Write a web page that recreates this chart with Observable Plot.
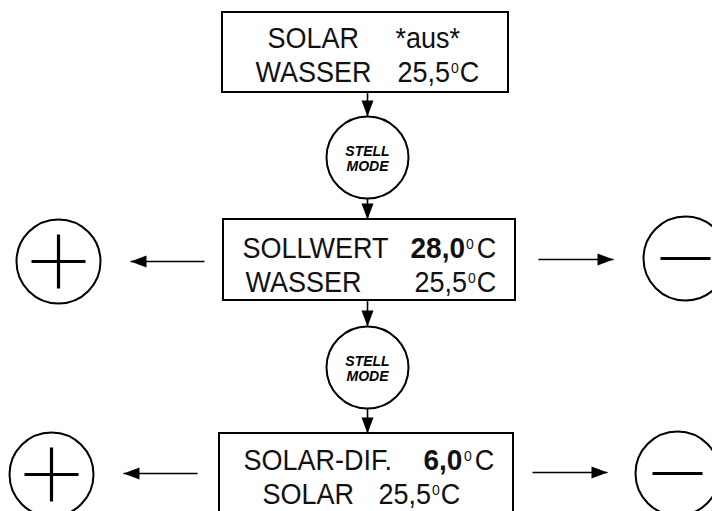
<!DOCTYPE html>
<html><head><meta charset="utf-8">
<script src="https://cdn.jsdelivr.net/npm/d3@7"></script>
<script src="https://cdn.jsdelivr.net/npm/@observablehq/plot@0.6"></script>
<style>html,body{margin:0;padding:0;background:#fff;overflow:hidden}</style>
</head><body><div id="chart"></div>
<script>
// ---------- content ----------
const labels    = [["SOLAR", "WASSER"], ["SOLLWERT", "WASSER"], ["SOLAR-DIF.", "SOLAR"]];
const values    = [["*aus*", "25,5"], ["28,0", "25,5"], ["6,0", "25,5"]];
const valueBold = [[false, false], [true, false], [true, false]];
const units     = [["", "C"], ["C", "C"], ["C", "C"]];
const degreeMark = "0";
const modeKey   = ["STELL", "MODE"];
const keyKinds  = ["plus", "minus"];

// ---------- layout ----------
const W = 712, H = 511;
const boxX1 = [222, 223, 219], boxX2 = [508, 515, 513];
const boxY1 = [12, 219, 433], boxY2 = [92, 300, 540];
const baselines = [[47, 81], [257, 291], [469, 503]];
const labelX = [[267, 255], [242, 245], [243, 262]];
const valueX = [[395, 397], [410, 414], [423, 378]];
const flowX = 367, modeY = [157, 367], modeR = 41;
const plusCX = [58, 51], plusCY = [261, 474];
const minusCX = [685, 677], minusCY = [258, 473];
const keyR = 42, plusHalf = 27, minusHalf = 25;
const leftArrow = [[204, 130, 261], [197, 123, 473]];
const rightArrow = [[538, 613, 259], [532, 607, 472]];

const FS = 27, SUP = 14, FONT = '"Liberation Sans", Arial, sans-serif';
const STRETCH_Y = 1.07;

const ctx = document.createElement("canvas").getContext("2d");
const measure = (t, bold, size) => { ctx.font = `${bold ? "bold " : ""}${size}px ${FONT}`; return ctx.measureText(t).width; };

const seg = [];
labels.forEach((rows, b) => rows.forEach((lab, l) => {
  const y = baselines[b][l];
  seg.push({x: labelX[b][l], y, text: lab, kind: "n"});
  const vb = valueBold[b][l];
  seg.push({x: valueX[b][l], y, text: values[b][l], kind: vb ? "b" : "n"});
  if (units[b][l]) {
    const gap = vb ? 3 : 1;
    let x = valueX[b][l] + measure(values[b][l], vb, FS) + gap;
    seg.push({x, y: y - 9, text: degreeMark, kind: "s"});
    x += measure(degreeMark, false, SUP) + gap;
    seg.push({x, y, text: units[b][l], kind: "n"});
  }
}));

const boxes = labels.map((_, i) => ({x1: boxX1[i], x2: boxX2[i], y1: boxY1[i], y2: boxY2[i]}));
const flow = [];
modeY.forEach((cy, i) => {
  flow.push({x: flowX, y1: boxY2[i], y2: cy - modeR});
  flow.push({x: flowX, y1: cy + modeR, y2: boxY1[i + 1]});
});
const modes = modeY.map(cy => ({x: flowX, y: cy}));
const modeText = modes.flatMap(m => modeKey.map((t, k) => ({x: m.x, y: m.y - 2 + 15 * k, text: t})));

const sideShafts = [
  ...leftArrow.map(([a, b, y]) => ({x1: a, x2: b, y, rot: -90})),
  ...rightArrow.map(([a, b, y]) => ({x1: a, x2: b, y, rot: 90}))
];
const keys = [
  ...plusCX.map((x, i) => ({x, y: plusCY[i], kind: keyKinds[0]})),
  ...minusCX.map((x, i) => ({x, y: minusCY[i], kind: keyKinds[1]}))
];
const strokes = keys.flatMap(k => k.kind === "plus"
  ? [{x1: k.x - plusHalf, x2: k.x + plusHalf, y1: k.y, y2: k.y}, {x1: k.x, x2: k.x, y1: k.y - plusHalf, y2: k.y + plusHalf}]
  : [{x1: k.x - minusHalf, x2: k.x + minusHalf, y1: k.y, y2: k.y}]);

const arrowHead = {draw(c) { const L = 16, w = 6; c.moveTo(0, 0); c.lineTo(w, L); c.lineTo(-w, L); c.closePath(); }};

const chart = Plot.plot({
  width: W, height: H, margin: 0,
  x: {domain: [0, W], range: [0, W], axis: null},
  y: {domain: [0, H], range: [0, H], axis: null},
  style: {fontFamily: FONT, background: "white", color: "black"},
  marks: [
    Plot.rect(boxes, {x1: "x1", x2: "x2", y1: "y1", y2: "y2", fill: "white", stroke: "black", strokeWidth: 2, clip: true}),
    Plot.link(flow, {x1: "x", x2: "x", y1: "y1", y2: "y2", stroke: "black", strokeWidth: 1.6}),
    Plot.dot(flow, {x: "x", y: "y2", symbol: arrowHead, rotate: 180, fill: "black", stroke: null}),
    Plot.dot(modes, {x: "x", y: "y", r: modeR, fill: "white", stroke: "black", strokeWidth: 2}),
    Plot.text(modeText, {x: "x", y: "y", text: "text", fontSize: 14, fontWeight: "bold", fontStyle: "italic", lineAnchor: "bottom", fill: "black"}),
    Plot.link(sideShafts, {x1: "x1", x2: "x2", y1: "y", y2: "y", stroke: "black", strokeWidth: 1.6}),
    Plot.dot(sideShafts, {x: "x2", y: "y", symbol: arrowHead, rotate: "rot", fill: "black", stroke: null}),
    Plot.dot(keys, {x: "x", y: "y", r: keyR, fill: "none", stroke: "black", strokeWidth: 2, clip: true}),
    Plot.link(strokes, {x1: "x1", x2: "x2", y1: "y1", y2: "y2", stroke: "black", strokeWidth: 3.2, clip: true}),
    Plot.text(seg.filter(d => d.kind === "n"), {x: "x", y: "y", text: "text", fontSize: FS, textAnchor: "start", lineAnchor: "bottom", fill: "#111"}),
    Plot.text(seg.filter(d => d.kind === "b"), {x: "x", y: "y", text: "text", fontSize: FS + 1, fontWeight: "bold", textAnchor: "start", lineAnchor: "bottom", fill: "#111"}),
    Plot.text(seg.filter(d => d.kind === "s"), {x: "x", y: "y", text: "text", fontSize: SUP, textAnchor: "start", lineAnchor: "bottom", fill: "#111"})
  ]
});
// slight vertical stretch of the display lettering (taller glyphs as in the reference)
d3.select(chart).selectAll("text").each(function () {
  let t = this.getAttribute("transform");
  if (!t) {
    const x = this.getAttribute("x") || 0, y = this.getAttribute("y") || 0;
    this.removeAttribute("x"); this.removeAttribute("y");
    t = `translate(${x},${y})`;
  }
  this.setAttribute("transform", `${t} scale(1,${STRETCH_Y})`);
});
document.getElementById("chart").appendChild(chart);
</script>
</body></html>
